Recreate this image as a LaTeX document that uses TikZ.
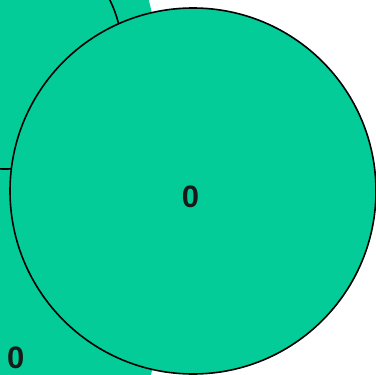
\documentclass[tikz,border=0pt]{standalone}
\usepackage{fontspec}
\setmainfont{Liberation Sans}
\usetikzlibrary{positioning}
\definecolor{packGreen}{RGB}{4,204,153}

\begin{document}
\begin{tikzpicture}[x=1pt,y=-1pt,
  bubble/.style={fill=packGreen, draw=black, line width=1.6pt},
  count/.style={font=\bfseries\fontsize{31}{31}\selectfont, text=black!90, inner sep=0pt}]
\useasboundingbox (0,0) rectangle (376,375);
\begin{scope}
\clip (0,0) rectangle (376,375);
% outer group, only its fill shows
\fill[packGreen] (-628,192) circle (800);
% hidden neighbour, two bits of its rim show
\draw[bubble] (5,52) circle (117);
% front bubble
\node[bubble, circle, minimum size=366pt, inner sep=0pt] (front) at (193,191) {};
\node[count] (frontcount) at (190.5,197) {0};
\node[count] (outercount) at (15.8,358.3) {0};
\end{scope}
\end{tikzpicture}
\end{document}
